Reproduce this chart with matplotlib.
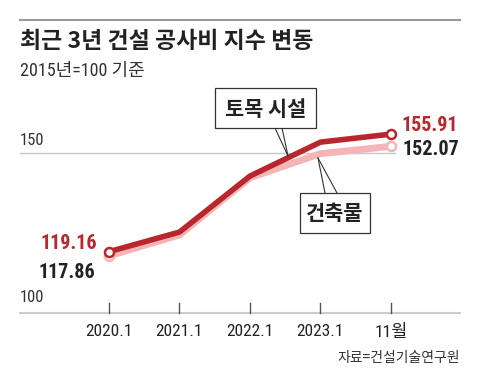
import matplotlib
matplotlib.use("Agg")
import matplotlib.pyplot as plt
from matplotlib import font_manager
from matplotlib.patches import Rectangle

labels = ["2020.1", "2021.1", "2022.1", "2023.1", "11월"]
civil = [119.16, 125.3, 142.8, 153.4, 155.91]
building = [117.86, 124.4, 142.3, 149.8, 152.07]

RED = "#b8272d"
PINK = "#f5b5b7"

# narrow latin face for the numbers, Hangul falls back to Noto
installed = {f.name for f in font_manager.fontManager.ttflist}
narrow = next((n for n in ["Roboto Condensed", "PT Sans Narrow", "Liberation Sans Narrow"]
               if n in installed), "DejaVu Sans")
NARROW = [narrow, "Noto Sans CJK KR"]
KR = ["Noto Sans CJK KR", "DejaVu Sans"]

W, H = 480, 384
fig = plt.figure(figsize=(W / 100, H / 100), dpi=100)

def fx(px):
    return px / W

def fy(py):
    return 1 - py / H

# axes: x=0 at 109px, x=4 at 391px ; y=100 at 313px, 3.2px per unit
xs_per = (391 - 109) / 4
left_px, right_px = 20, 460
top_px, bot_px = 100, 313
ax = fig.add_axes([fx(left_px), fy(bot_px), (right_px - left_px) / W, (bot_px - top_px) / H])
ax.set_xlim(-(109 - left_px) / xs_per, 4 + (right_px - 391) / xs_per)
ax.set_ylim(100, 100 + (bot_px - top_px) / 3.2)
ax.axis("off")

x = list(range(len(labels)))
ax.plot(x, building, color=PINK, lw=5, solid_capstyle="round", zorder=2)
ax.plot(x, civil, color=RED, lw=4, solid_capstyle="round", zorder=3)
for ser, c in [(building, PINK), (civil, RED)]:
    ax.plot([x[0], x[-1]], [ser[0], ser[-1]], "o", ms=6.5, mfc="white", mec=c, mew=1.8,
            zorder=4, clip_on=False)

# gridline and baseline
ax.plot([ax.get_xlim()[0], 4.05], [150, 150], color="#c8c8c8", lw=1, zorder=1, clip_on=False)
ax.axhline(100, color="#cccccc", lw=1.5, zorder=1, clip_on=False)
for xi, lab in zip(x, labels):
    ax.plot([xi, xi], [100, 103.2], color="#555555", lw=1, clip_on=False)
    ax.text(xi, 100 - 10.5 / 3.2, lab, ha="center", va="top", fontsize=12.5,
            family=NARROW, color="#222222")

# y labels
fig.text(fx(20), fy(148), "150", fontsize=12, family=NARROW, color="#333333", va="bottom")
fig.text(fx(20), fy(305), "100", fontsize=12, family=NARROW, color="#333333", va="bottom")

# value labels
ax.text(-0.17, civil[0] + 2.7, f"{civil[0]:.2f}", ha="right", va="center", fontsize=14.5,
        family=NARROW, color=RED, weight="bold")
ax.text(-0.2, building[0] - 5.1, f"{building[0]:.2f}", ha="right", va="center", fontsize=14.5,
        family=NARROW, color="#222222", weight="bold")
ax.text(4.155, civil[-1] + 2.8, f"{civil[-1]:.2f}", ha="left", va="center", fontsize=14.5,
        family=NARROW, color=RED, weight="bold")
ax.text(4.17, building[-1] - 1.1, f"{building[-1]:.2f}", ha="left", va="center", fontsize=14.5,
        family=NARROW, color="#222222", weight="bold")

# callout boxes
for (x0, y0, x1, y1), lab in [((215, 88, 316, 128), "토목 시설"), ((300, 193, 370, 233), "건축물")]:
    fig.add_artist(Rectangle((fx(x0), fy(y1)), (x1 - x0) / W, (y1 - y0) / H, fc="white",
                             ec="#333333", lw=0.9, zorder=5))
    fig.text(fx((x0 + x1) / 2), fy((y0 + y1) / 2 + 1), lab, ha="center", va="center",
             fontsize=15, family=KR, weight="bold", color="#222222", zorder=6)
for (x0, y0), (x1, y1) in [((275, 128), (288, 156)), ((282, 128), (288, 156)),
                           ((325, 193), (318, 158)), ((337, 193), (318, 158))]:
    fig.add_artist(plt.Line2D([fx(x0), fx(x1)], [fy(y0), fy(y1)], color="#333333", lw=0.8))

# header
fig.add_artist(plt.Line2D([fx(20), fx(460)], [fy(20), fy(20)], color="#999999", lw=1.5))
fig.text(fx(20), fy(42), "최근 3년 건설 공사비 지수 변동", fontsize=16.5, family=KR,
         weight="bold", color="#222222", va="center")
fig.text(fx(20), fy(71), "2015년=100 기준", fontsize=13, family=NARROW, color="#333333",
         va="center")
fig.text(fx(460), fy(358), "자료=건설기술연구원", fontsize=10, family=KR, color="#333333",
         ha="right", va="center")

fig.savefig("out.png", dpi=100)
